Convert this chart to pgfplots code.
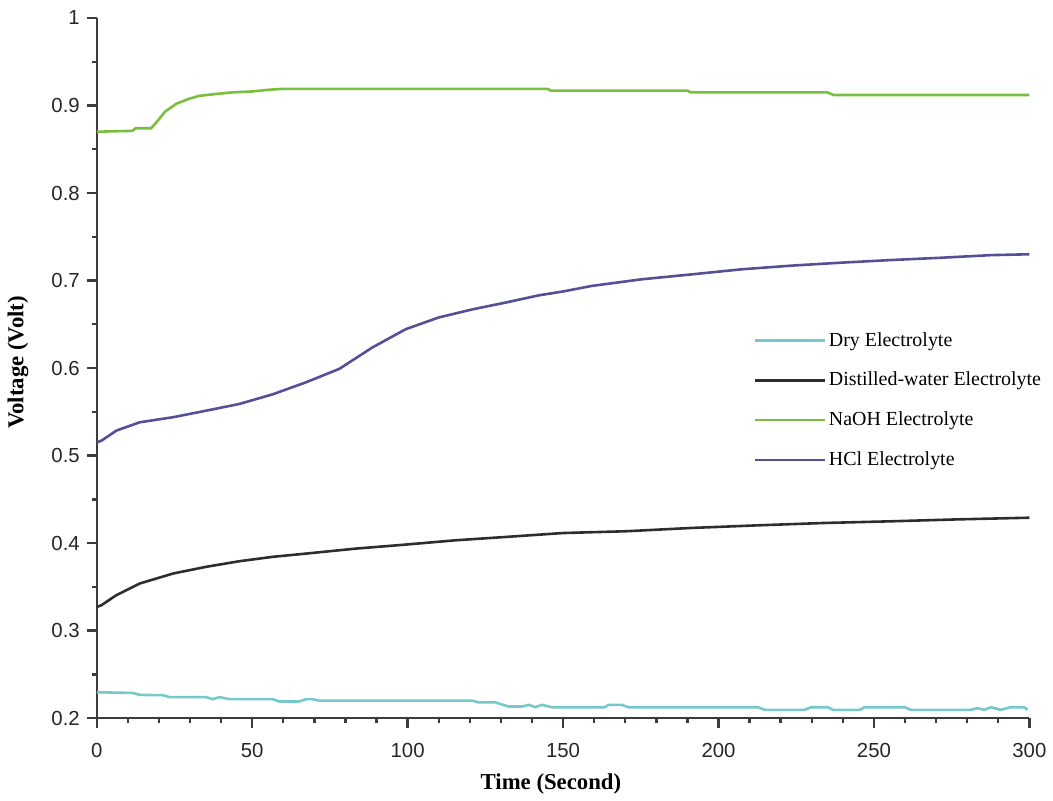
\documentclass[border=0pt]{standalone}
\usepackage{fontspec}
\setmainfont{Liberation Serif}
\newfontfamily\ticksfont{Liberation Sans}
\usepackage{pgfplots}
\pgfplotsset{compat=1.18}

\definecolor{dryc}{RGB}{118,200,204}
\definecolor{distc}{RGB}{45,45,45}
\definecolor{naohc}{RGB}{122,190,62}
\definecolor{hclc}{RGB}{84,80,150}
\definecolor{axc}{RGB}{60,60,60}

\begin{document}
\begin{tikzpicture}
\begin{axis}[
  scale only axis,
  width=467.5pt, height=351pt,
  xmin=0, xmax=300, ymin=0.2, ymax=1,
  axis x line=bottom, axis y line=left,
  axis line style={-, line width=1.2pt, draw=axc},
  tick align=outside,
  every tick/.style={line width=1.2pt, draw=axc},
  major tick length=5pt, minor tick length=2.5pt,
  xtick={0,50,...,300},
  ytick={0.2,0.3,...,1.0},
  minor x tick num=4, minor y tick num=1,
  /pgf/number format/assume math mode=true,
  tick label style={font=\ticksfont\fontsize{10.2}{12}\selectfont, text=black!85},
  xticklabel style={yshift=-4pt},
  yticklabel style={/pgf/number format/fixed, /pgf/number format/precision=1},
  xlabel={\textbf{Time (Second)}},
  ylabel={\textbf{Voltage (Volt)}},
  label style={font=\fontsize{11.4}{13}\selectfont},
  xlabel style={at={(axis description cs:0.487,-0.0935)}, anchor=center},
  ylabel style={at={(axis description cs:-0.0845,0.508)}, anchor=center, rotate=0},
  legend style={draw=none, fill=none, at={(rel axis cs:0.7037,0.556)}, anchor=north west,
    font=\fontsize{10}{12}\selectfont, row sep=8.5pt, inner sep=0pt,
    nodes={inner sep=1.5pt}},
  legend cell align=left,
  legend image code/.code={\draw[#1] (0pt,0pt) -- (35pt,0pt);},
  every axis plot/.append style={line width=1.3pt},
]
% dry electrolyte
\addplot[dryc] coordinates {
(0,0.2296) (11.6,0.2288) (13.8,0.2266) (21.3,0.2262) (23.4,0.224) (35.2,0.224)
(37.3,0.2217) (39.5,0.224) (42.7,0.2217) (56.6,0.2217) (58.7,0.219) (65.1,0.219)
(67.3,0.2217) (69.4,0.2217) (71.6,0.22) (120.8,0.22) (122.9,0.218) (128.2,0.218)
(132.5,0.2133) (136.8,0.2133) (139,0.2152) (141.1,0.2125) (143.2,0.2152) (146.4,0.2125)
(163.5,0.2125) (164.6,0.2152) (168.9,0.2152) (171,0.2125) (212.7,0.2125) (214.9,0.2095)
(227.7,0.2095) (229.8,0.2125) (235.2,0.2125) (236.8,0.2095) (245.4,0.2095) (247,0.2125)
(259.8,0.2125) (261.9,0.2095) (281.2,0.2095) (283.3,0.2114) (285.5,0.2095) (287.6,0.2125)
(290.8,0.2095) (294,0.2125) (298.3,0.2125) (299.4,0.2095)
};
\addlegendentry{Dry Electrolyte}
% distilled water
\addplot[distc] coordinates {
(0,0.327) (1.5,0.329) (6.3,0.3405) (13.8,0.3538) (24.5,0.3652) (35.2,0.3729)
(45.9,0.3793) (56.6,0.3843) (67.3,0.388) (83.3,0.3937) (99.4,0.3983) (115.4,0.4032)
(131.5,0.407) (150,0.4115) (170,0.4135) (191.3,0.4173) (212.7,0.4203) (234.1,0.423)
(255.5,0.4249) (276.9,0.4271) (300,0.429)
};
\addlegendentry{Distilled-water Electrolyte}
% NaOH
\addplot[naohc] coordinates {
(0,0.870) (11.5,0.871) (12.5,0.874) (17.5,0.874) (19,0.880) (22,0.893) (25.6,0.902)
(30,0.908) (33,0.911) (38,0.913) (43.7,0.915) (50,0.916) (55.5,0.918) (60,0.919)
(145,0.919) (146,0.917) (190,0.917) (191,0.915) (235,0.915) (237,0.912) (300,0.912)
};
\addlegendentry{NaOH Electrolyte}
% HCl
\addplot[hclc] coordinates {
(0,0.515) (1.5,0.517) (6.3,0.5285) (13.8,0.538) (24.5,0.5438) (35.2,0.5513)
(45.9,0.559) (56.6,0.570) (67.3,0.5837) (78,0.599) (88.7,0.6236) (99.4,0.6444)
(110,0.6578) (120.8,0.667) (131.5,0.6748) (142.1,0.683) (150,0.6875) (159.2,0.6938)
(175.3,0.7014) (191.3,0.707) (207.4,0.7128) (223.4,0.717) (239.5,0.7204) (255.5,0.7234)
(271.5,0.726) (287.6,0.729) (300,0.730)
};
\addlegendentry{HCl Electrolyte}
\end{axis}
\path (current axis.south west) ++(-48.5pt,-40pt) coordinate (bbl);
\path (current axis.north east) ++(10.5pt,9pt) coordinate (bbr);
\path (bbl) rectangle (bbr);
\end{tikzpicture}
\end{document}
